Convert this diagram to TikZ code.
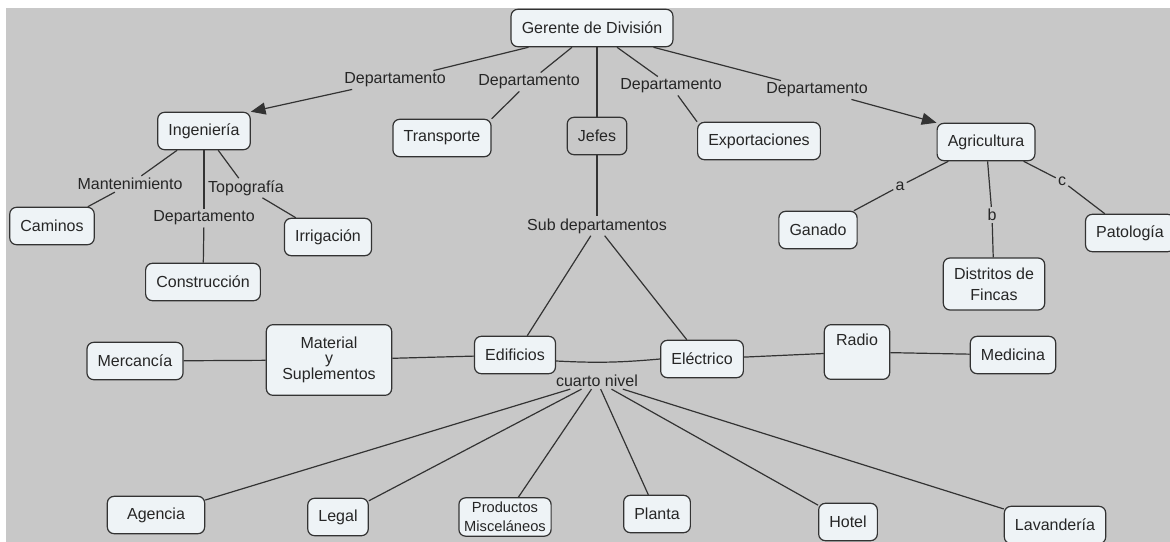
\documentclass[tikz,border=0pt]{standalone}
\usepackage{fontspec}
\setmainfont{Liberation Sans}
\usetikzlibrary{arrows.meta}

\definecolor{fondo}{HTML}{C8C8C8}
\definecolor{caja}{HTML}{EEF3F6}
\definecolor{borde}{HTML}{333333}

\begin{document}
\begin{tikzpicture}[x=0.75pt,y=-0.75pt]
   \tikzstyle{every node}=[font=\fontsize{12}{13}\selectfont, text=black!85]
   \tikzstyle{concepto}=[draw=borde, line width=0.9pt, rounded corners=5pt, fill=caja, inner xsep=8pt, minimum height=28pt, align=center]
   \tikzstyle{enlace}=[inner sep=1.5pt, fill=fondo]
   \tikzstyle{linea}=[draw=black!80, line width=0.9pt]
   \tikzstyle{flecha}=[linea, -{Triangle[length=11pt,width=9pt]}]

\useasboundingbox (0,0) rectangle (1170,542);
\fill[white] (0,0) rectangle (1170,542);
\fill[fondo] (6,8) rectangle (1170,542);

% conceptos
\node[concepto] (ger) at (592,28) {Gerente de División};
\node[concepto] (ing) at (204,131) {Ingeniería};
\node[concepto] (tra) at (442,138) {Transporte};
\node[concepto, fill=fondo] (jef) at (597,136) {Jefes};
\node[concepto] (exp) at (759,141) {Exportaciones};
\node[concepto] (agr) at (986,142) {Agricultura};
\node[concepto] (cam) at (52,226) {Caminos};
\node[concepto] (con) at (203,282) {Construcción};
\node[concepto] (irr) at (328,237) {Irrigación};
\node[concepto] (gan) at (818,230) {Ganado};
\node[concepto, font=\fontsize{12}{15.5}\selectfont, minimum height=39pt] (dis) at (994,284) {Distritos de\\Fincas};
\node[concepto] (pat) at (1130,233) {Patología};
\node[concepto] (mer) at (135,361) {Mercancía};
\node[concepto, font=\fontsize{12}{11}\selectfont, minimum height=53pt, minimum width=94pt] (mat) at (329,360) {Material\\y\\Suplementos};
\node[concepto] (edi) at (515,355) {Edificios};
\node[concepto] (ele) at (702,359) {Eléctrico};
\node[concepto, minimum width=49pt, minimum height=41pt] (rad) at (857,352) {Radio\\[5pt]};
\node[concepto] (med) at (1013,355) {Medicina};
\node[concepto, minimum width=73pt] (age) at (156,515) {Agencia};
\node[concepto] (leg) at (338,517) {Legal};
\node[concepto, font=\fontsize{11}{14}\selectfont, inner xsep=4pt] (pro) at (505,517) {Productos\\Misceláneos};
\node[concepto] (pla) at (657,514) {Planta};
\node[concepto] (hot) at (848,522) {Hotel};
\node[concepto] (lav) at (1055,525) {Lavandería};

% frases de enlace
\node[enlace] (d1) at (395,80) {Departamento};
\node[enlace] (d2) at (529,82) {Departamento};
\node[enlace] (d3) at (671,86) {Departamento};
\node[enlace] (d4) at (817,90) {Departamento};
\node[enlace] (man) at (130,184) {Mantenimiento};
\node[enlace] (d5) at (204,218) {Departamento};
\node[enlace] (top) at (246,188) {Topografía};
\node[enlace] (sub) at (597,226) {Sub departamentos};
\node[enlace] (cua) at (597,381) {cuarto nivel};
\node[enlace] (la) at (900,186) {a};
\node[enlace] (lb) at (992,215) {b};
\node[enlace] (lc) at (1062,181) {c};

% conexiones
\draw[linea] (ger.south west) ++(18,0) -- (d1);
\draw[flecha] (d1) -- (ing.north east);
\draw[linea] (ger.south) ++(-20,0) -- (d2);
\draw[linea] (d2) -- (tra.north east);
\draw[linea] (ger.south -| jef) -- (jef);
\draw[linea] (ger.south) ++(25,0) -- (d3);
\draw[linea] (d3) -- (exp.north west);
\draw[linea] (ger.south east) ++(-20,0) -- (d4);
\draw[flecha] (d4) -- (agr.north west);

\draw[linea] (ing) -- (man);
\draw[linea] (man) -- (cam);
\draw[linea] (ing) -- (d5);
\draw[linea] (d5) -- (con);
\draw[linea] (ing) -- (top);
\draw[linea] (top) -- (irr);

\draw[linea] (agr) -- (la);
\draw[linea] (la) -- (gan);
\draw[linea] (agr) -- (lb);
\draw[linea] (lb) -- (dis);
\draw[linea] (agr) -- (lc);
\draw[linea] (lc) -- (pat);

\draw[linea] (jef) -- (sub);
\draw[linea] (sub) -- (edi);
\draw[linea] (sub) -- (ele);

\draw[linea] (mer) -- (mat);
\draw[linea] (mat) -- (edi);
\draw[linea] (edi.east) ++(0,6) to[bend right=4] (ele.west);
\draw[linea] (ele) -- (rad);
\draw[linea] (rad) -- (med);

\foreach \n in {age,leg,pro,pla,hot,lav}
   \draw[linea] (cua) -- (\n);

\end{tikzpicture}
\end{document}
